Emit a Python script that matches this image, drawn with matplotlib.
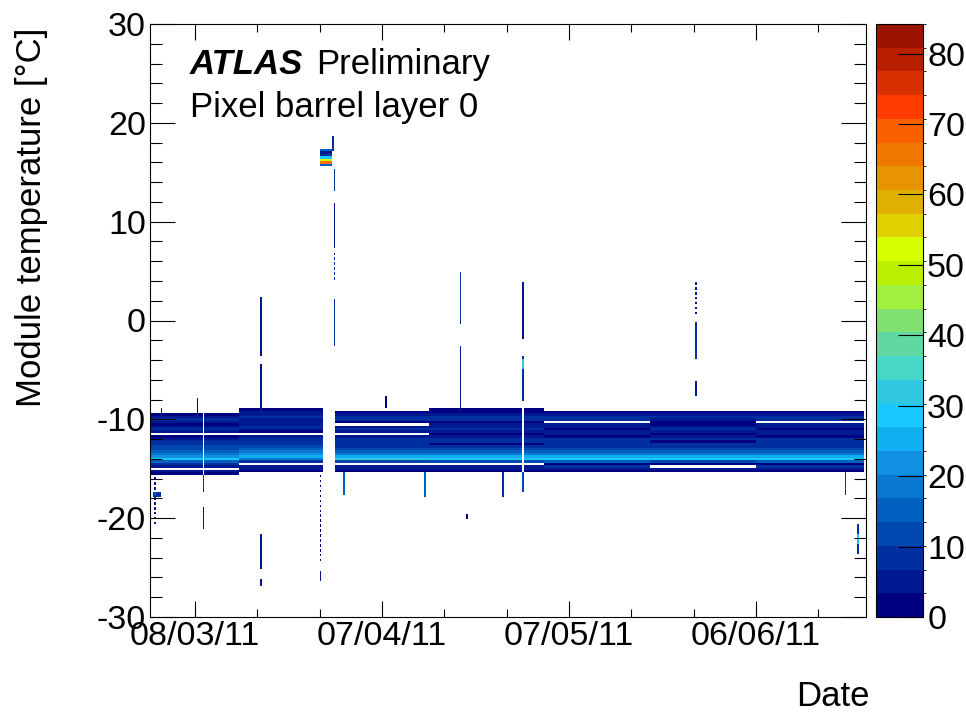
import numpy as np
import matplotlib
matplotlib.use('Agg')
import matplotlib.pyplot as plt
from matplotlib.colors import ListedColormap, BoundaryNorm
from matplotlib.ticker import FixedLocator, MultipleLocator

plt.rcParams['font.family'] = ['Liberation Sans', 'DejaVu Sans']
plt.rcParams['axes.unicode_minus'] = False

# ---------------- data ----------------
# x axis: days since 01/03/2011 00:00
tick_days = [7, 37, 67, 97]
tick_labels = ['08/03/11', '07/04/11', '07/05/11', '06/06/11']
minor_days = [17, 27, 47, 57, 77, 87, 107]
cbar_ticks = [0, 10, 20, 30, 40, 50, 60, 70, 80]

# temperature rows (deg C) of the main cooling band
band_rows = [-9.0, -9.25, -9.5, -9.75, -10.0, -10.25, -10.5, -10.75, -11.0,
             -11.25, -11.5, -11.75, -12.0, -12.25, -12.5, -12.75, -13.0,
             -13.25, -13.5, -13.75, -14.0, -14.25, -14.5, -14.75, -15.0,
             -15.25, -15.5]
# entries per cell for each period (one value per band row)
profile_march_early = [0, 0, 2, 6, 7, 4, 2, 6, 7, 5, 0, 1, 6, 8, 9, 11, 13,
                       15, 18, 23, 29, 15, 8, 5, 0, 6, 3]
profile_march_late = [1, 5, 6, 7, 6, 5, 6, 7, 6, 3, 0, 6, 8, 9, 10, 12, 15,
                      18, 22, 26, 20, 10, 0, 4, 5, 2, 0]
profile_april = [0, 1, 6, 7, 8, 3, 0, 6, 7, 4, 0, 5, 7, 8, 9, 10, 13,
                 16, 19, 26, 31, 12, 0, 6, 5, 1, 0]
profile_may = [1, 2, 6, 7, 7, 2, 5, 6, 7, 5, 1, 5, 7, 8, 3, 10, 13,
               16, 19, 25, 30, 12, 0, 6, 5, 1, 0]
profile_june_a = [0, 1, 5, 7, 7, 0, 5, 6, 2, 5, 6, 1, 7, 8, 9, 10, 12,
                  15, 19, 24, 28, 14, 2, 7, 6, 2, 0]
profile_june_b = [0, 1, 5, 7, 6, 2, 1, 6, 7, 5, 2, 5, 7, 3, 9, 10, 12,
                  15, 20, 25, 27, 13, 2, 0, 6, 2, 0]
profiles = {'ME': profile_march_early, 'ML': profile_march_late,
            'AP': profile_april, 'MY': profile_may,
            'JA': profile_june_a, 'JB': profile_june_b}

# periods of the main band (days)
seg_start = [-0.25, 8.6, 14.0, 29.4, 44.5, 59.75, 63.0, 80.0, 97.0]
seg_end = [8.35, 14.0, 27.5, 44.5, 59.5, 63.0, 80.0, 97.0, 114.2]
seg_profile = ['ME', 'ME', 'ML', 'AP', 'MY', 'MY', 'JA', 'JB', 'JA']

# warm period while cooling was off
flag_start, flag_end = 27.1, 29.0
flag_rows = [17.25, 17.0, 16.75, 16.5, 16.25, 16.0, 15.75]
flag_counts = [14, 4, 8, 28, 52, 64, 15]

# isolated excursions: day range, temperature range, entries per cell,
# dotted (1) or continuous (0)
spk_d0 = [1.6, 7.3, 17.6, 17.6, 29.3, 29.3, 29.3, 29.3, 29.0, 37.6,
          49.6, 49.6, 59.5, 59.5, 59.5, 87.2, 87.2, 87.2,
          0.6, 0.25, 8.25, 8.25, 17.5, 17.5, 27.1, 27.1, 30.8, 43.7, 50.5,
          56.3, 59.5, 111.4, 113.4, 113.4]
spk_d1 = [1.8, 7.5, 17.8, 17.8, 29.5, 29.5, 29.5, 29.5, 29.2, 37.8,
          49.8, 49.8, 59.75, 59.75, 59.75, 87.4, 87.4, 87.4,
          0.8, 1.5, 8.5, 8.5, 17.7, 17.7, 27.3, 27.3, 31.0, 43.9, 50.75,
          56.5, 59.75, 111.6, 113.6, 113.6]
spk_t0 = [-9.75, -9.5, -9.25, -3.5, -2.5, 4.3, 7.5, 13.2, 17.25, -8.75,
          -9.0, -0.3, -8.0, -4.75, -1.8, 0.8, -3.8, -7.4,
          -20.5, -17.75, -17.25, -20.9, -24.9, -26.8, -24.2, -26.3, -17.4,
          -17.7, -19.9, -17.7, -17.2, -17.5, -23.5, -22.5]
spk_t1 = [-9.0, -8.0, -4.5, 2.3, 2.1, 7.1, 11.7, 15.2, 18.5, -7.75,
          -2.8, 4.8, -3.8, -4.0, 3.8, 3.8, -0.3, -6.2,
          -15.75, -17.5, -15.75, -19.0, -21.8, -26.3, -15.5, -25.5, -15.5,
          -15.5, -19.8, -15.5, -15.5, -15.5, -20.7, -21.75]
spk_cnt = [2, 3, 5, 6, 7, 9, 6, 10, 9, 3,
           6, 7, 7, 25, 6, 4, 9, 6,
           4, 10, 7, 6, 5, 5, 3, 4, 14,
           14, 3, 10, 12, 10, 8, 20]
spk_dotted = [0, 0, 0, 0, 0, 1, 0, 0, 0, 0,
              0, 0, 0, 0, 0, 1, 0, 0,
              1, 0, 0, 0, 0, 0, 1, 0, 0,
              0, 0, 0, 0, 0, 0, 0]

# palette (25 levels, bottom to top)
palette = ['#000080', '#001890', '#0030a0', '#0048b0', '#0060c0', '#0878d0',
           '#1090e0', '#10b0f0', '#18c8ff', '#30c8e0', '#48d8c8', '#60d8a0',
           '#80e070', '#a0f040', '#b8f000', '#d8ff00', '#e0d000', '#e0b000',
           '#e89400', '#f07800', '#f86000', '#ff3c00', '#d83000', '#b82000',
           '#9a1400']
zmax = 84.2

# ---------------- binning ----------------
xbin = 0.25
ybin = 0.25
xedges = np.arange(-0.25, 114.75 + 1e-9, xbin)
yedges = np.arange(-30.125, 30.125 + 1e-9, ybin)
xcent = 0.5 * (xedges[:-1] + xedges[1:])
ycent = 0.5 * (yedges[:-1] + yedges[1:])

px, py, pw = [], [], []


def cells_x(d0, d1):
    xs = xcent[(xcent >= d0) & (xcent < d1)]
    if len(xs) == 0:
        xs = xcent[[np.argmin(np.abs(xcent - 0.5 * (d0 + d1)))]]
    return xs


def cells_y(t0, t1):
    return ycent[(ycent + ybin / 2 > t0) & (ycent - ybin / 2 < t1)]


for s, e, p in zip(seg_start, seg_end, seg_profile):
    xs = xcent[(xcent >= s) & (xcent < e)]
    for t, c in zip(band_rows, profiles[p]):
        if c > 0:
            px.extend(xs)
            py.extend([t] * len(xs))
            pw.extend([c] * len(xs))

xs = xcent[(xcent >= flag_start) & (xcent < flag_end)]
for t, c in zip(flag_rows, flag_counts):
    px.extend(xs)
    py.extend([t] * len(xs))
    pw.extend([c] * len(xs))

for d0, d1, t0, t1, c, dot in zip(spk_d0, spk_d1, spk_t0, spk_t1, spk_cnt,
                                  spk_dotted):
    xs = cells_x(d0, d1)
    ts = cells_y(t0, t1)
    if dot:
        ts = ts[::2]
    for t in ts:
        px.extend(xs)
        py.extend([t] * len(xs))
        pw.extend([c] * len(xs))

# ---------------- figure ----------------
W, H = 966, 715
fig = plt.figure(figsize=(W / 100, H / 100), dpi=100)
ax = fig.add_axes([150 / W, (H - 617) / H, 716 / W, 593 / H])
cax = fig.add_axes([876 / W, (H - 617) / H, 47 / W, 593 / H])

cmap = ListedColormap(palette)
norm = BoundaryNorm(np.linspace(0, zmax, len(palette) + 1), len(palette))
h, xe, ye, mesh = ax.hist2d(px, py, bins=[xedges, yedges], weights=pw,
                            cmap=cmap, norm=norm, cmin=0.5)

ax.set_xlim(-0.22, 114.65)
ax.set_ylim(-30, 30)

ax.xaxis.set_major_locator(FixedLocator(tick_days))
ax.set_xticklabels(tick_labels)
ax.xaxis.set_minor_locator(FixedLocator(minor_days))
ax.yaxis.set_major_locator(MultipleLocator(10))
ax.yaxis.set_minor_locator(MultipleLocator(2))

ax.tick_params(axis='both', which='both', direction='in', top=True,
               right=True, width=0.8, colors='black', labelsize=24.5)
ax.tick_params(axis='y', which='major', length=18, pad=3)
ax.tick_params(axis='y', which='minor', length=8.6)
ax.tick_params(axis='x', which='major', length=11.5, pad=3)
ax.tick_params(axis='x', which='minor', length=5.8)
for sp in ax.spines.values():
    sp.set_linewidth(0.8)

cb = fig.colorbar(mesh, cax=cax, ticks=cbar_ticks, spacing='proportional')
cax.set_ylim(0, zmax)
cax.tick_params(direction='in', length=18, width=0.8, labelsize=24.5, pad=3)
cb.outline.set_linewidth(0.8)

fig.text(32 / W, (H - 217) / H, 'Module temperature [\u00b0C]', rotation=90,
         ha='center', va='center', fontsize=25)
fig.text(870 / W, (H - 696) / H, 'Date', ha='right', va='center', fontsize=25)

fig.text(190 / W, (H - 74) / H, 'ATLAS', fontsize=25, fontweight='bold',
         fontstyle='italic', va='baseline')
fig.text(316 / W, (H - 74) / H, 'Preliminary', fontsize=25, va='baseline')
fig.text(190 / W, (H - 117) / H, 'Pixel barrel layer 0', fontsize=25,
         va='baseline')

fig.savefig('out.png', dpi=100)
